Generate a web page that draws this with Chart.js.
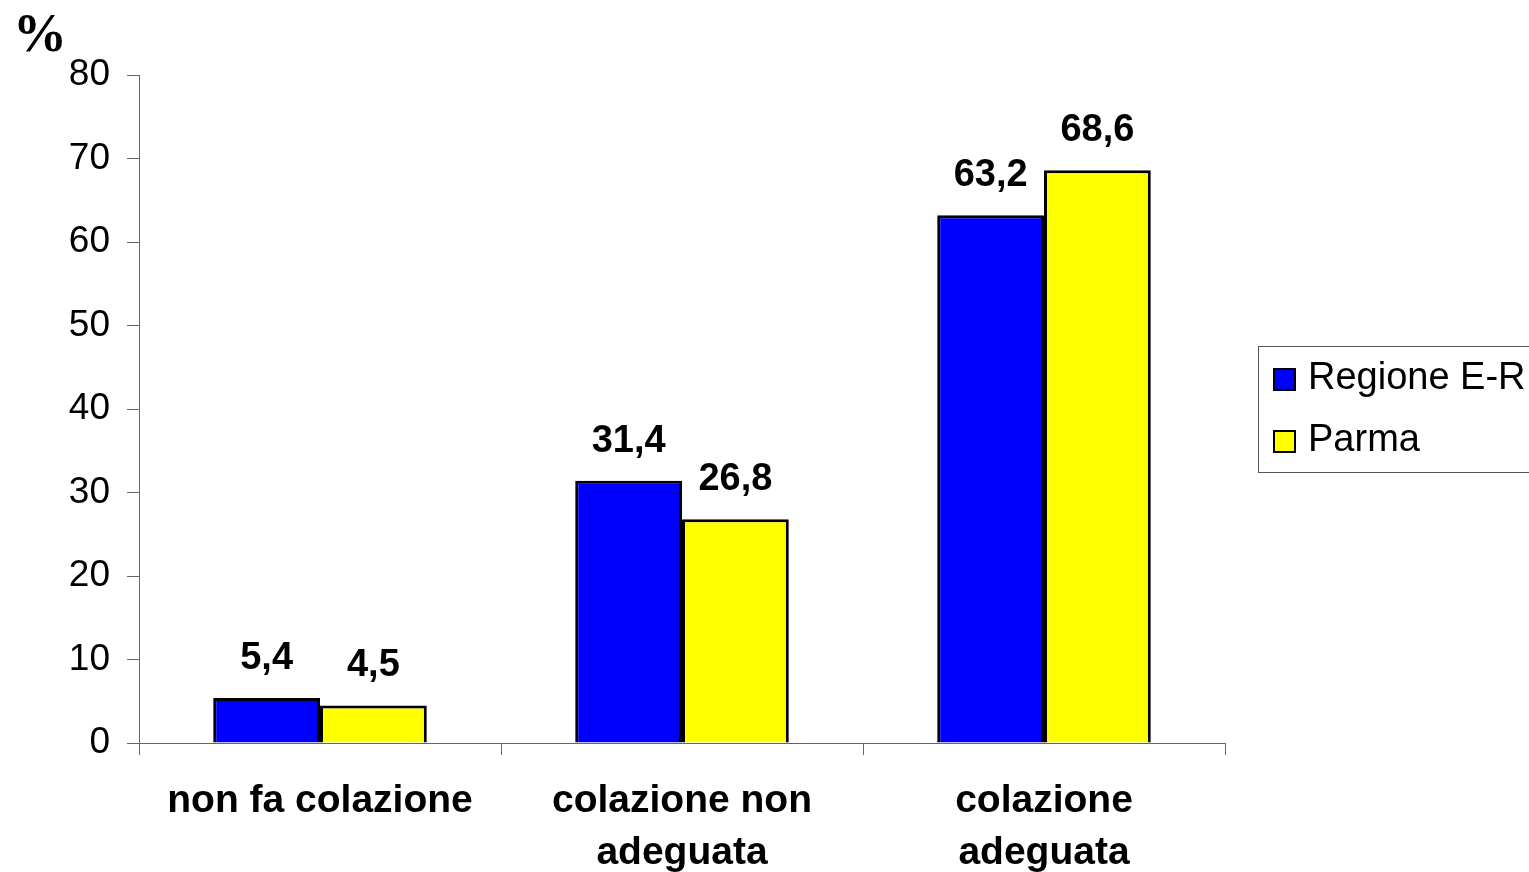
<!DOCTYPE html>
<html>
<head>
<meta charset="utf-8">
<script src="https://cdn.jsdelivr.net/npm/chart.js@4"></script>
<style>
  html, body { margin: 0; padding: 0; background: #fff; }
  #wrap { position: relative; width: 1529px; height: 872px; }
  canvas { display: block; }
</style>
</head>
<body>
<div id="wrap"><canvas id="c" width="1529" height="872"></canvas></div>
<script>
const categories = [["non fa colazione"], ["colazione non", "adeguata"], ["colazione", "adeguata"]];
const seriesNames = ["Regione E-R", "Parma"];
const regioneValues = [5.4, 31.4, 63.2];
const parmaValues = [4.5, 26.8, 68.6];
const yTicks = [0, 10, 20, 30, 40, 50, 60, 70, 80];
const yUnitLabel = "%";

const fmt = v => v.toFixed(1).replace('.', ',');

const dataLabels = {
  id: 'dataLabels',
  afterDatasetsDraw(chart) {
    const ctx = chart.ctx;
    ctx.save();
    ctx.font = 'bold 38px "Liberation Sans", Arial, sans-serif';
    ctx.fillStyle = '#000';
    ctx.textAlign = 'center';
    ctx.textBaseline = 'alphabetic';
    chart.data.datasets.forEach((ds, i) => {
      chart.getDatasetMeta(i).data.forEach((bar, j) => {
        ctx.fillText(fmt(ds.data[j]), bar.x, bar.y - 29);
      });
    });
    ctx.restore();
  }
};

const extras = {
  id: 'extras',
  afterDraw(chart) {
    const ctx = chart.ctx;
    ctx.save();
    ctx.font = 'bold 54px "Liberation Serif", "Times New Roman", serif';
    ctx.fillStyle = '#000';
    ctx.textAlign = 'left';
    ctx.textBaseline = 'alphabetic';
    ctx.fillText(yUnitLabel, 13, 51);
    const lx = 1258.5, ly = 346.5, lw = 290, lh = 126;
    ctx.strokeStyle = '#555';
    ctx.lineWidth = 1;
    ctx.strokeRect(lx, ly, lw, lh);
    ctx.font = '38px "Liberation Sans", Arial, sans-serif';
    ctx.textBaseline = 'middle';
    const rowsY = [379, 441];
    chart.data.datasets.forEach((ds, i) => {
      const y = rowsY[i];
      ctx.fillStyle = ds.backgroundColor;
      ctx.fillRect(1274, y - 10, 21, 21);
      ctx.strokeStyle = '#000';
      ctx.lineWidth = 2;
      ctx.strokeRect(1274, y - 10, 21, 21);
      ctx.fillStyle = '#000';
      ctx.fillText(ds.label, 1308, y);
    });
    ctx.restore();
  }
};

new Chart(document.getElementById('c'), {
  type: 'bar',
  data: {
    labels: categories,
    datasets: [
      { label: seriesNames[0], data: regioneValues, backgroundColor: '#0000ff', borderColor: '#000', borderWidth: 3, borderSkipped: 'bottom' },
      { label: seriesNames[1], data: parmaValues, backgroundColor: '#ffff00', borderColor: '#000', borderWidth: 3, borderSkipped: 'bottom' }
    ]
  },
  options: {
    responsive: false,
    animation: false,
    layout: { padding: { left: 0, right: 304, top: 75, bottom: 0 } },
    datasets: { bar: { categoryPercentage: 0.59, barPercentage: 1.0 } },
    plugins: { legend: { display: false }, tooltip: { enabled: false } },
    scales: {
      x: {
        grid: { display: true, drawOnChartArea: false, offset: true, color: '#666', tickLength: 12, lineWidth: 1 },
        border: { display: true, color: '#666', width: 1 },
        ticks: {
          color: '#000',
          font: { family: '"Liberation Sans", Arial, sans-serif', size: 39, weight: 'bold', lineHeight: 1.32 },
          padding: 21,
          maxRotation: 0, minRotation: 0, autoSkip: false
        },
        afterFit(scale) { scale.height = 129; }
      },
      y: {
        min: 0, max: 80,
        afterBuildTicks(scale) { scale.ticks = yTicks.map(v => ({ value: v })); },
        grid: { display: true, drawOnChartArea: false, color: '#666', tickLength: 12, lineWidth: 1 },
        border: { display: true, color: '#666', width: 1 },
        ticks: {
          color: '#000',
          font: { family: '"Liberation Sans", Arial, sans-serif', size: 37 },
          padding: 17
        },
        afterFit(scale) { scale.width = 139; }
      }
    }
  },
  plugins: [dataLabels, extras]
});
</script>
</body>
</html>
